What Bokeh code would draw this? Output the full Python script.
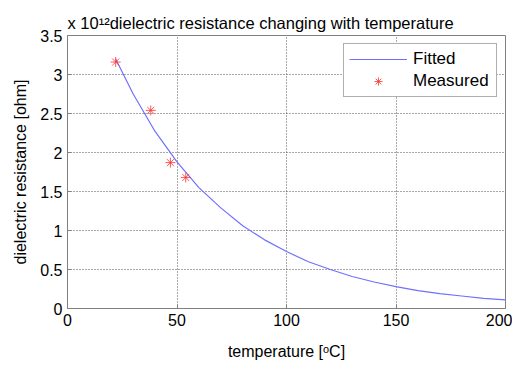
from bokeh.plotting import figure
from bokeh.models import Range1d, FixedTicker, CustomJSTickFormatter, Legend, LegendItem
from bokeh.embed import file_html
from bokeh.resources import INLINE

# Measured points (temperature in degC, resistance in 1e12 ohm)
meas_temp = [22, 38, 47, 54]
meas_res = [3.16, 2.54, 1.87, 1.68]

# Fitted curve
fit_temp = [22, 30, 40, 50, 60, 70, 80, 90, 100, 110, 120, 130, 140, 150, 160, 170, 180, 190, 200]
fit_res = [3.20, 2.75, 2.27, 1.88, 1.55, 1.29, 1.06, 0.88, 0.73, 0.60, 0.50, 0.41, 0.34, 0.28, 0.23, 0.19, 0.16, 0.13, 0.11]

x_ticks = [0, 50, 100, 150, 200]
y_ticks = [0, 0.5, 1, 1.5, 2, 2.5, 3, 3.5]

FONT = "Liberation Sans"

p = figure(width=512, height=362, output_backend="svg", toolbar_location=None,
           x_range=Range1d(0, 200), y_range=Range1d(0, 3.5),
           min_border_left=67, min_border_right=7, min_border_top=35, min_border_bottom=49,
           title="x 10\u00b9\u00b2dielectric resistance changing with temperature")
p.title.align = "left"
p.title.text_font = FONT
p.title.text_font_size = "16.5px"
p.title.text_font_style = "normal"
p.title.text_color = "black"
p.title.standoff = 7

fit = p.line(fit_temp, fit_res, line_color="#7070ff", line_width=1.2)
mea = p.scatter(meas_temp, meas_res, marker="asterisk", size=10, line_color="#ff3030", line_width=1, line_alpha=0.8)

for ax, ticks in ((p.xaxis[0], x_ticks), (p.yaxis[0], y_ticks)):
    ax.ticker = FixedTicker(ticks=ticks)
    ax.formatter = CustomJSTickFormatter(code="return tick.toString();")
    ax.major_tick_in = 4
    ax.major_tick_out = 0
    ax.minor_tick_line_color = None
    ax.axis_line_color = "#808080"
    ax.major_tick_line_color = "#808080"
    ax.major_label_text_font = FONT
    ax.major_label_text_font_size = "16px"
    ax.major_label_text_color = "black"
    ax.axis_label_text_font = FONT
    ax.axis_label_text_font_size = "16px"
    ax.axis_label_text_font_style = "normal"
    ax.axis_label_text_color = "black"
    ax.major_label_standoff = 5

p.xaxis.axis_label = "temperature [\u1d52C]"
p.yaxis.axis_label = "dielectric resistance [ohm]"
p.xaxis.axis_label_standoff = 14
p.yaxis.axis_label_standoff = 8

p.grid.grid_line_color = "#505050"
p.grid.grid_line_dash = "1 2"
p.grid.grid_line_width = 1
p.outline_line_color = "#808080"
p.outline_line_width = 1
p.background_fill_color = "white"
p.border_fill_color = "white"

legend = Legend(items=[LegendItem(label="Fitted", renderers=[fit]),
                       LegendItem(label="Measured", renderers=[mea])],
                location="top_right")
legend.margin = 8
legend.padding = 5
legend.spacing = 2
legend.glyph_width = 58
legend.glyph_height = 20
legend.label_standoff = 6
legend.label_width = 78
legend.label_text_font = FONT
legend.label_text_font_size = "17px"
legend.label_text_color = "black"
legend.border_line_color = "#606060"
legend.border_line_width = 1
legend.background_fill_color = "white"
legend.background_fill_alpha = 1
p.add_layout(legend)

open("out.html", "w").write(file_html(p, INLINE))
